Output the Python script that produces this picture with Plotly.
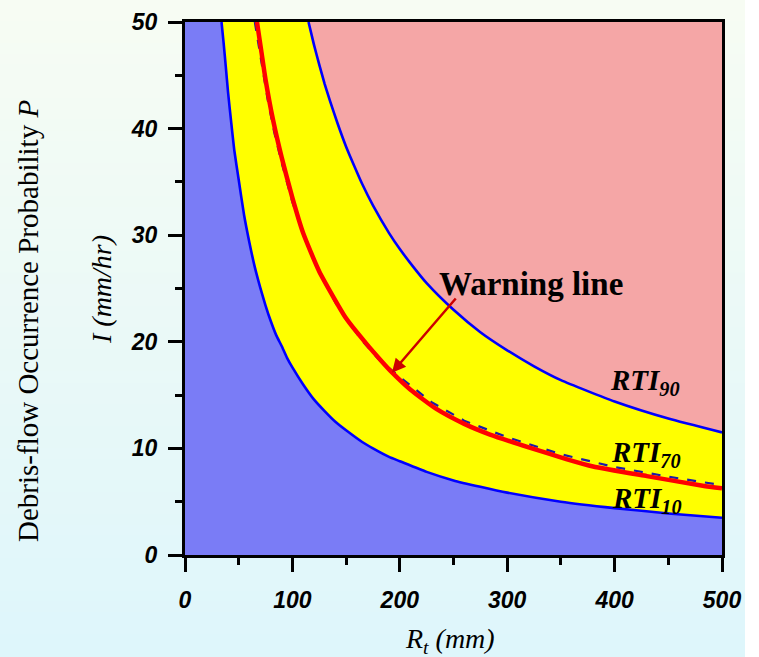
import plotly.graph_objects as go

# Rainfall threshold curves: accumulated rainfall R_t (mm) vs intensity I (mm/hr)
r_rti10 = [34, 36, 38, 40, 43, 46, 50, 55, 60, 65, 70, 75, 80, 85, 90, 95, 100, 110, 120, 130, 140, 150, 165, 175, 190, 200, 225, 250, 275, 300, 350, 400, 450, 500]
i_rti10 = [50, 48.0, 45.8, 43.5, 40.6, 37.9, 35.2, 31.9, 29.3, 27.0, 25.1, 23.4, 21.9, 20.6, 19.6, 18.5, 17.6, 16.0, 14.6, 13.5, 12.5, 11.7, 10.6, 10.0, 9.2, 8.8, 7.8, 7.0, 6.4, 5.85, 5.0, 4.4, 3.9, 3.5]

r_rti90 = [115, 120, 125, 130, 135, 142, 150, 158, 165, 175, 190, 200, 212, 225, 250, 275, 300, 325, 350, 400, 450, 500]
i_rti90 = [50, 47.9, 46.0, 44.2, 42.6, 40.5, 38.3, 36.4, 34.8, 32.8, 30.2, 28.7, 27.1, 25.5, 23.0, 20.9, 19.2, 17.7, 16.4, 14.4, 12.8, 11.5]

r_rti70 = [65, 68, 72, 77, 83, 90, 100, 112, 125, 140, 150, 165, 180, 200, 230, 260, 300, 350, 400, 450, 500]
i_rti70 = [50, 48.2, 45.6, 42.7, 39.7, 36.8, 33.1, 29.6, 26.5, 23.7, 22.1, 20.1, 18.4, 16.7, 14.3, 12.6, 11.05, 9.45, 8.25, 7.35, 6.55]

r_warn = [67, 71, 75, 82, 90, 100, 110, 125, 150, 169, 182, 193, 210, 234, 260, 284, 320, 355, 380, 430, 482, 500]
i_warn = [50, 47.3, 44.6, 40.8, 37.3, 33.5, 30.2, 26.6, 22.2, 19.8, 18.3, 17.1, 15.5, 13.7, 12.3, 11.3, 10.1, 9.0, 8.3, 7.4, 6.5, 6.25]

x_ticks = [0, 100, 200, 300, 400, 500]
y_ticks = [0, 10, 20, 30, 40, 50]

X_MAX, Y_MAX = 500, 50

SERIF = "Liberation Serif, Times New Roman, serif"
SANS = "Liberation Sans, Arial, sans-serif"

fig = go.Figure()

# Low-probability zone: below RTI10
fig.add_trace(go.Scatter(
    x=[0] + r_rti10 + [X_MAX, 0],
    y=[Y_MAX] + i_rti10 + [0, 0],
    fill="toself", fillcolor="#7a7cf6", line=dict(width=0),
    mode="lines", hoverinfo="skip"))

# Middle zone: between RTI10 and RTI90
fig.add_trace(go.Scatter(
    x=r_rti10 + r_rti90[::-1],
    y=i_rti10 + i_rti90[::-1],
    fill="toself", fillcolor="#ffff00", line=dict(width=0),
    mode="lines", hoverinfo="skip"))

# High-probability zone: above RTI90
fig.add_trace(go.Scatter(
    x=r_rti90 + [X_MAX],
    y=i_rti90 + [Y_MAX],
    fill="toself", fillcolor="#f5a6a6", line=dict(width=0),
    mode="lines", hoverinfo="skip"))

# Threshold curves
for rx, iy in ((r_rti10, i_rti10), (r_rti90, i_rti90)):
    fig.add_trace(go.Scatter(
        x=rx, y=iy, mode="lines",
        line=dict(color="#0000ff", width=2.6, shape="spline", smoothing=0.5),
        hoverinfo="skip"))

fig.add_trace(go.Scatter(
    x=r_rti70, y=i_rti70, mode="lines",
    line=dict(color="#1c1ca8", width=2.2, dash="dash"),
    hoverinfo="skip"))

fig.add_trace(go.Scatter(
    x=r_warn, y=i_warn, mode="lines",
    line=dict(color="#ff0000", width=4.5, shape="spline", smoothing=0.5),
    hoverinfo="skip"))

# Gradient page background, drawn as thin horizontal bands
plot_w, plot_h = 537.0, 533.0
x_left, x_right = -185 / plot_w, (745 - 185) / plot_w
y_bottom, y_top = -102 / plot_h, 1 + 22 / plot_h
n_bands = 60
top_rgb, bot_rgb = (247, 252, 243), (222, 246, 251)
shapes = []
for k in range(n_bands):
    t = k / (n_bands - 1)
    c = tuple(round(top_rgb[j] + (bot_rgb[j] - top_rgb[j]) * t) for j in range(3))
    y1 = y_top - (y_top - y_bottom) * k / n_bands
    y0 = y_top - (y_top - y_bottom) * (k + 1) / n_bands
    shapes.append(dict(type="rect", xref="paper", yref="paper",
                       x0=x_left, x1=x_right, y0=y0 - 0.002, y1=y1 + 0.002,
                       fillcolor="rgb(%d,%d,%d)" % c, line=dict(width=0),
                       layer="below"))

annotations = [
    # Arrow pointing at the warning line
    dict(x=192.7, y=17.1, ax=253.3, ay=24.2, xref="x", yref="y",
         axref="x", ayref="y", text="", showarrow=True,
         arrowhead=2, arrowsize=1.1, arrowwidth=2.5, arrowcolor="#cc0000"),
    dict(x=322, y=25.4, xref="x", yref="y", text="<b>Warning line</b>",
         showarrow=False, font=dict(family=SERIF, size=33, color="black")),
    dict(x=393.5, y=16.2, xref="x", yref="y", xanchor="left", yanchor="middle",
         text="<b><i>RTI<sub>90</sub></i></b>", showarrow=False,
         font=dict(family=SERIF, size=29, color="black")),
    dict(x=394.5, y=9.5, xref="x", yref="y", xanchor="left", yanchor="middle",
         text="<b><i>RTI<sub>70</sub></i></b>", showarrow=False,
         font=dict(family=SERIF, size=29, color="black")),
    dict(x=395.5, y=5.15, xref="x", yref="y", xanchor="left", yanchor="middle",
         text="<b><i>RTI<sub>10</sub></i></b>", showarrow=False,
         font=dict(family=SERIF, size=29, color="black")),
    # Axis titles
    dict(x=(101 - 185) / plot_w, y=(555 - 290) / plot_h, xref="paper", yref="paper",
         xanchor="center", yanchor="middle",
         text="<i>I (mm/hr)</i>", textangle=-90, showarrow=False,
         font=dict(family=SERIF, size=28, color="black")),
    dict(x=(28 - 185) / plot_w, y=(555 - 321) / plot_h, xref="paper", yref="paper",
         xanchor="center", yanchor="middle",
         text="Debris-flow Occurrence Probability <i>P</i>", textangle=-90,
         showarrow=False, font=dict(family=SERIF, size=29, color="black")),
    dict(x=(450 - 185) / plot_w, y=(555 - 640) / plot_h, xref="paper", yref="paper",
         xanchor="center", yanchor="middle",
         text="<i>R<sub>t</sub> (mm)</i>", showarrow=False,
         font=dict(family=SERIF, size=28, color="black")),
]

axis_common = dict(
    showline=True, linecolor="black", linewidth=3, mirror=True,
    ticks="outside", ticklen=14, tickwidth=3, tickcolor="black",
    showgrid=False, zeroline=False,
    tickfont=dict(family=SANS, size=23, color="black", weight="bold", style="italic"),
)

fig.update_xaxes(range=[0, X_MAX], tickvals=x_ticks, ticklabelstandoff=8,
                 minor=dict(ticks="outside", ticklen=7, tickwidth=3, dtick=50, tickcolor="black"),
                 **axis_common)
fig.update_yaxes(range=[0, Y_MAX], tickvals=y_ticks, ticklabelstandoff=6,
                 minor=dict(ticks="outside", ticklen=7, tickwidth=3, dtick=5, tickcolor="black"),
                 **axis_common)

fig.update_layout(
    width=759, height=657,
    margin=dict(l=185, r=37, t=22, b=102, autoexpand=False),
    paper_bgcolor="white", plot_bgcolor="rgba(0,0,0,0)",
    showlegend=False, shapes=shapes, annotations=annotations,
)

fig.write_html("out.html")
